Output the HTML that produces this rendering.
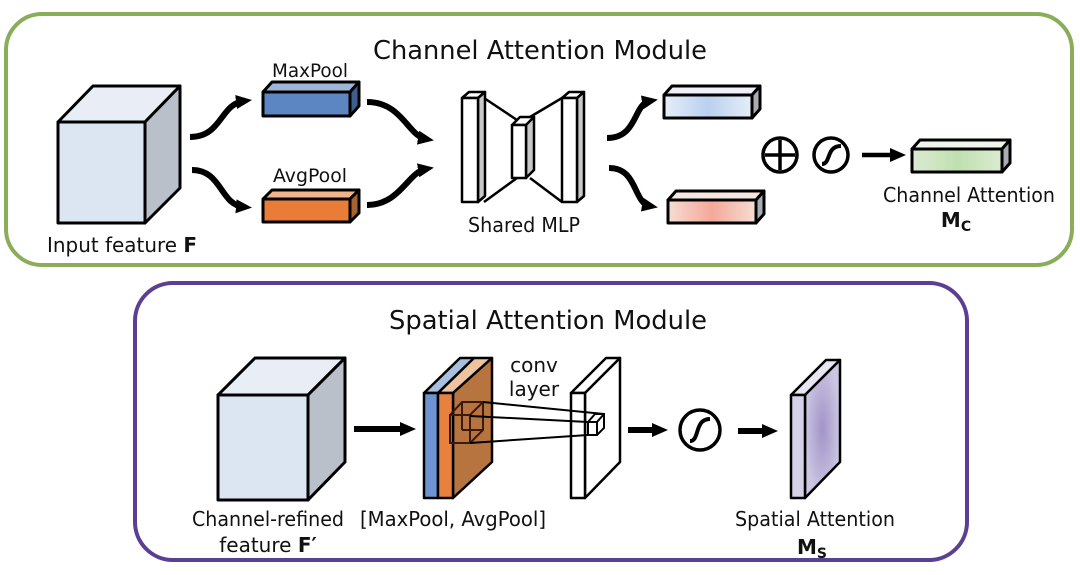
<!DOCTYPE html>
<html><head><style>
html,body{margin:0;padding:0;background:#fff;}
svg{display:block;}
text{font-family:"DejaVu Sans","Liberation Sans",sans-serif;fill:#111;}
</style></head><body>
<svg width="1080" height="575" viewBox="0 0 1080 575" xmlns="http://www.w3.org/2000/svg">
<defs>
<marker id="ah" markerWidth="16" markerHeight="16" refX="8" refY="8" orient="auto" markerUnits="userSpaceOnUse" viewBox="0 0 16 16">
<path d="M0,1 L16,8 L0,15 Z" fill="#000"/></marker>
<linearGradient id="gb" x1="0" x2="1"><stop offset="0" stop-color="#e6eef8"/><stop offset="0.5" stop-color="#b9d0ef"/><stop offset="1" stop-color="#e6eef8"/></linearGradient>
<linearGradient id="gr" x1="0" x2="1"><stop offset="0" stop-color="#f6ddd2"/><stop offset="0.5" stop-color="#f4a89a"/><stop offset="1" stop-color="#f6ddd2"/></linearGradient>
<linearGradient id="gg" x1="0" x2="1"><stop offset="0" stop-color="#dcebd2"/><stop offset="0.5" stop-color="#bfe0b0"/><stop offset="1" stop-color="#dcebd2"/></linearGradient>
<radialGradient id="gp"><stop offset="0" stop-color="#a294c8"/><stop offset="1" stop-color="#ccc6e2"/></radialGradient>
</defs>

<rect x="6" y="14" width="1066" height="251" rx="36" fill="#fff" stroke="#8aad5a" stroke-width="4"/>
<text x="540" y="59" font-size="26" text-anchor="middle" textLength="334" lengthAdjust="spacingAndGlyphs">Channel Attention Module</text>

<g stroke="#000" stroke-width="3" stroke-linejoin="round">
<path d="M58,122 L93,86 L180,86 L145,122 Z" fill="#e9eef6"/>
<path d="M145,122 L180,86 L180,188 L145,223 Z" fill="#b9c0ca"/>
<rect x="58" y="122" width="87" height="101" fill="#dce6f2"/>
</g>
<text x="122" y="252" font-size="20" text-anchor="middle" textLength="150" lengthAdjust="spacingAndGlyphs">Input feature <tspan font-weight="bold">F</tspan></text>

<g stroke="#000" stroke-width="3" stroke-linejoin="round">
<path d="M263,92 L272,82 L359,82 L350,92 Z" fill="#9fb6d8"/>
<path d="M350,92 L359,82 L359,106 L350,116 Z" fill="#3d5f8e"/>
<rect x="263" y="92" width="87" height="24" fill="#5c86c2"/>
<path d="M263,199 L272,190 L359,190 L350,199 Z" fill="#f0b38a"/>
<path d="M350,199 L359,190 L359,213 L350,222 Z" fill="#a86230"/>
<rect x="263" y="199" width="87" height="23" fill="#e87c38"/>
</g>
<text x="310" y="77" font-size="19" text-anchor="middle" textLength="76" lengthAdjust="spacingAndGlyphs">MaxPool</text>
<text x="310" y="182" font-size="19" text-anchor="middle" textLength="74" lengthAdjust="spacingAndGlyphs">AvgPool</text>

<g fill="none" stroke="#000" stroke-width="6" marker-end="url(#ah)">
<path d="M190,137 C222,137 220,104 244,101"/>
<path d="M192,170 C222,170 220,205 244,207"/>
<path d="M367,102 C402,102 408,136 426,139"/>
<path d="M367,205 C400,205 408,172 426,169"/>
<path d="M607,138 C638,138 633,104 650,101"/>
<path d="M609,168 C638,168 633,203 650,206"/>
</g>

<g stroke="#000" stroke-width="2.5" stroke-linejoin="round">
<line x1="484" y1="98" x2="517" y2="120"/>
<line x1="484" y1="202" x2="517" y2="178"/>
<line x1="530" y1="117" x2="562" y2="98"/>
<line x1="530" y1="178" x2="562" y2="202"/>
<path d="M462,98 L469,92 L485,92 L478,98 Z" fill="#fff"/>
<path d="M478,98 L485,92 L485,196 L478,202 Z" fill="#c8c8c8"/>
<rect x="462" y="98" width="16" height="104" fill="#fff"/>
<path d="M512,125 L520,117 L534,117 L526,125 Z" fill="#fff"/>
<path d="M526,125 L534,117 L534,170 L526,178 Z" fill="#c8c8c8"/>
<rect x="512" y="125" width="14" height="53" fill="#fff"/>
<path d="M562,98 L569,92 L584,92 L577,98 Z" fill="#fff"/>
<path d="M577,98 L584,92 L584,196 L577,202 Z" fill="#c8c8c8"/>
<rect x="562" y="98" width="15" height="104" fill="#fff"/>
</g>
<text x="524" y="232" font-size="20" text-anchor="middle" textLength="112" lengthAdjust="spacingAndGlyphs">Shared MLP</text>

<g stroke="#000" stroke-width="3" stroke-linejoin="round">
<path d="M664,95 L672,86 L760,86 L752,95 Z" fill="#eef2f8"/>
<path d="M752,95 L760,86 L760,109 L752,118 Z" fill="#a9adb3"/>
<rect x="664" y="95" width="88" height="23" fill="url(#gb)"/>
<path d="M668,200 L676,191 L764,191 L756,200 Z" fill="#f6e6df"/>
<path d="M756,200 L764,191 L764,214 L756,223 Z" fill="#a9adb3"/>
<rect x="668" y="200" width="88" height="23" fill="url(#gr)"/>
<path d="M912,149 L920,140 L1010,140 L1002,149 Z" fill="#eef5ea"/>
<path d="M1002,149 L1010,140 L1010,163 L1002,172 Z" fill="#a9adb3"/>
<rect x="912" y="149" width="90" height="23" fill="url(#gg)"/>
</g>

<g fill="none" stroke="#000" stroke-width="3.5">
<circle cx="780" cy="155" r="17"/>
<line x1="765" y1="155" x2="795" y2="155"/><line x1="780" y1="140" x2="780" y2="170"/>
<circle cx="831" cy="155" r="17"/>
<path d="M822,164 C831,164 826,146 841,146" stroke-width="4"/>
</g>
<line x1="862" y1="155" x2="898" y2="155" stroke="#000" stroke-width="4.5" marker-end="url(#ah)"/>
<text x="969" y="202" font-size="20" text-anchor="middle" textLength="172" lengthAdjust="spacingAndGlyphs">Channel Attention</text>
<text x="956" y="227" font-size="20" font-weight="bold" text-anchor="middle">M<tspan font-size="14" dy="4">C</tspan></text>

<rect x="135" y="283" width="832" height="277" rx="38" fill="#fff" stroke="#5b3f92" stroke-width="4"/>
<text x="548" y="329" font-size="26" text-anchor="middle" textLength="318" lengthAdjust="spacingAndGlyphs">Spatial Attention Module</text>

<g stroke="#000" stroke-width="3" stroke-linejoin="round">
<path d="M218,395 L255,358 L345,358 L308,395 Z" fill="#e9eef6"/>
<path d="M308,395 L345,358 L345,462 L308,500 Z" fill="#b9c0ca"/>
<rect x="218" y="395" width="90" height="105" fill="#dce6f2"/>
</g>
<line x1="354" y1="429" x2="408" y2="429" stroke="#000" stroke-width="6" marker-end="url(#ah)"/>

<g stroke="#000" stroke-width="2.5" stroke-linejoin="round">
<path d="M424,393 L460,358 L474,358 L438,393 Z" fill="#a9bfe0"/>
<path d="M438,393 L474,358 L492,358 L453,393 Z" fill="#eec4a0"/>
<path d="M453,393 L492,358 L492,462 L453,498 Z" fill="#b8743e"/>
<rect x="424" y="393" width="14" height="105" fill="#6d94d0"/>
<rect x="438" y="393" width="15" height="105" fill="#e8813e"/>
</g>
<g stroke="#3a1a0a" stroke-width="2" fill="none">
<rect x="450" y="415" width="20" height="28"/>
<path d="M450,415 L462,402 L483,402 L483,430 L470,443 M470,415 L483,402"/>
<line x1="462" y1="402" x2="462" y2="430"/><line x1="462" y1="430" x2="483" y2="430"/>
</g>

<g stroke="#000" stroke-width="2.5" stroke-linejoin="round">
<path d="M571,393 L606,358 L620,358 L585,393 Z" fill="#fff"/>
<path d="M585,393 L620,358 L620,462 L585,498 Z" fill="#fff"/>
<rect x="571" y="393" width="14" height="105" fill="#fff"/>
</g>
<g stroke="#000" stroke-width="2" fill="none">
<line x1="483" y1="402" x2="604" y2="414"/>
<line x1="470" y1="416" x2="588" y2="422"/>
<line x1="470" y1="443" x2="588" y2="435"/>
<path d="M588,422 L595,414 L604,414 L604,428 L597,435 L588,435 Z" fill="#fff"/>
<path d="M588,422 L597,422 L604,414 M597,422 L597,435"/>
</g>
<text x="534" y="372" font-size="20" text-anchor="middle">conv</text>
<text x="534" y="396" font-size="20" text-anchor="middle">layer</text>

<line x1="628" y1="430" x2="660" y2="430" stroke="#000" stroke-width="6" marker-end="url(#ah)"/>
<g fill="none" stroke="#000" stroke-width="3.5">
<circle cx="700" cy="430" r="20"/>
<path d="M690,441 C700,441 694,419 710,419" stroke-width="4"/>
</g>
<line x1="738" y1="431" x2="770" y2="431" stroke="#000" stroke-width="6" marker-end="url(#ah)"/>

<g stroke="#000" stroke-width="2.5" stroke-linejoin="round">
<path d="M791,395 L826,360 L840,360 L805,395 Z" fill="#e8e6f2"/>
<path d="M805,395 L840,360 L840,462 L805,498 Z" fill="url(#gp)"/>
<rect x="791" y="395" width="14" height="103" fill="#d4d0e8"/>
</g>

<text x="268" y="526" font-size="20" text-anchor="middle" textLength="152" lengthAdjust="spacingAndGlyphs">Channel-refined</text>
<text x="268" y="552" font-size="20" text-anchor="middle">feature <tspan font-weight="bold">F′</tspan></text>
<text x="453" y="526" font-size="20" text-anchor="middle" textLength="186" lengthAdjust="spacingAndGlyphs">[MaxPool, AvgPool]</text>
<text x="815" y="526" font-size="20" text-anchor="middle" textLength="160" lengthAdjust="spacingAndGlyphs">Spatial Attention</text>
<text x="812" y="554" font-size="20" font-weight="bold" text-anchor="middle">M<tspan font-size="14" dy="4">S</tspan></text>
</svg>
</body></html>
